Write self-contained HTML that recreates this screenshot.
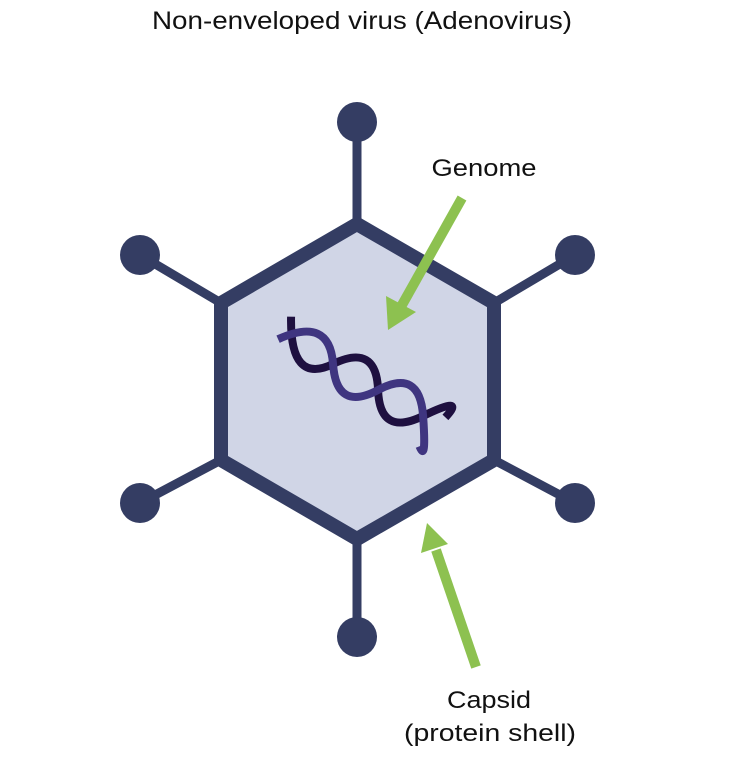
<!DOCTYPE html>
<html><head><style>
html,body{margin:0;padding:0;background:#fff;}
</style></head><body>
<svg width="740" height="768" viewBox="0 0 740 768" xmlns="http://www.w3.org/2000/svg" style="display:block">
<g font-family="Liberation Sans, sans-serif" fill="#111" text-anchor="middle" lengthAdjust="spacingAndGlyphs">
<text x="362" y="29" font-size="25" textLength="420" lengthAdjust="spacingAndGlyphs">Non-enveloped virus (Adenovirus)</text>
<text x="484" y="176" font-size="24" textLength="105" lengthAdjust="spacingAndGlyphs">Genome</text>
<text x="489" y="708" font-size="24" textLength="84" lengthAdjust="spacingAndGlyphs">Capsid</text>
<text x="490" y="741" font-size="24" textLength="172" lengthAdjust="spacingAndGlyphs">(protein shell)</text>
</g>
<g stroke="#343d63" stroke-width="9" stroke-linecap="round">
<line x1="357" y1="224" x2="357" y2="122"/>
<line x1="357" y1="539" x2="357" y2="637"/>
<line x1="221" y1="303" x2="140" y2="255"/>
<line x1="494" y1="303" x2="575" y2="255"/>
<line x1="221" y1="460" x2="140" y2="503"/>
<line x1="494" y1="460" x2="575" y2="503"/>
</g>
<g fill="#343d63">
<circle cx="357" cy="122" r="20"/>
<circle cx="357" cy="637" r="20"/>
<circle cx="140" cy="255" r="20"/>
<circle cx="575" cy="255" r="20"/>
<circle cx="140" cy="503" r="20"/>
<circle cx="575" cy="503" r="20"/>
</g>
<polygon points="357,224 494,303 494,460 357,539 221,460 221,303" fill="#d0d5e6" stroke="#343d63" stroke-width="14" stroke-linejoin="round"/>
<g transform="translate(288,338) rotate(30)" fill="none" stroke-width="8" stroke-linecap="butt">
<path d="M-8,-20 Q25,40 52,0 T104,0 T156,0 T176,-10" stroke="#1e1040"/>
<path d="M-8,6 Q25,-40 52,0 T104,0 T156,0 T168,28" stroke="#3f3580"/>
</g>
<g fill="#8dc150" stroke="#8dc150">
<line x1="462" y1="198" x2="402" y2="305" stroke-width="10"/>
<polygon points="388,330 386,296 416,312" stroke="none"/>
<line x1="476" y1="667" x2="436" y2="550" stroke-width="10"/>
<polygon points="427,523 421,553 448,544" stroke="none"/>
</g>
</svg>
</body></html>
